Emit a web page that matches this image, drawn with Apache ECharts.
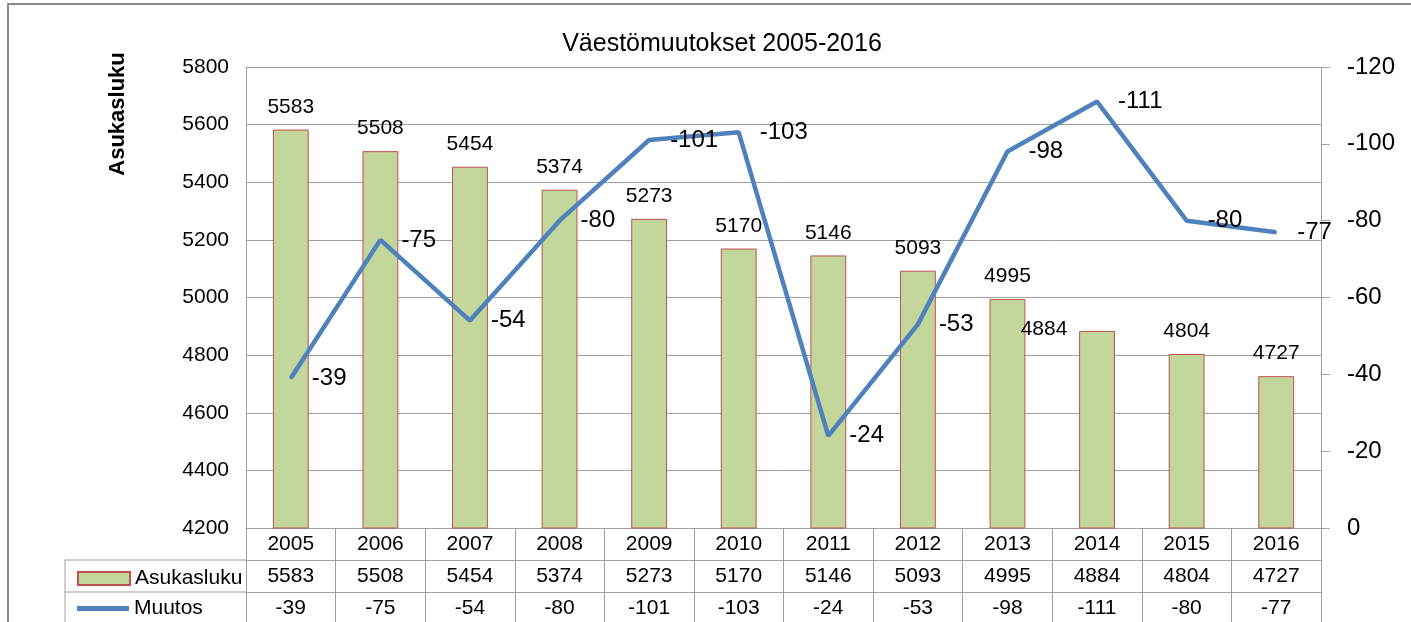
<!DOCTYPE html>
<html>
<head>
<meta charset="utf-8">
<title>Väestömuutokset 2005-2016</title>
<script src="https://cdn.jsdelivr.net/npm/echarts@6/dist/echarts.min.js"></script>
<style>
  html, body { margin: 0; padding: 0; background: #fff; }
  #main { width: 1411px; height: 622px; }
</style>
</head>
<body>
<div id="main"></div>
<script>
var years = ['2005', '2006', '2007', '2008', '2009', '2010', '2011', '2012', '2013', '2014', '2015', '2016'];
var asukasluku = [5583, 5508, 5454, 5374, 5273, 5170, 5146, 5093, 4995, 4884, 4804, 4727];
var muutos = [-39, -75, -54, -80, -101, -103, -24, -53, -98, -111, -80, -77];

var FONT = '"Liberation Sans", Arial, sans-serif';
var GRID = '#a0a0a0';

var myChart = echarts.init(document.getElementById('main'));

// 2014 label sits left of its bar in the original
var barData = asukasluku.map(function (v, i) {
  if (i === 9) return { value: v, label: { offset: [-53, 21] } };
  return v;
});

function tableAxis(offset, fmt) {
  return {
    type: 'category',
    gridIndex: 0,
    position: 'bottom',
    offset: offset,
    data: years,
    axisLine: { show: true, lineStyle: { color: GRID, width: 1 } },
    axisTick: { show: true, interval: 0, length: 32, lineStyle: { color: GRID } },
    axisLabel: {
      interval: 0, margin: 6, color: '#000', fontSize: 21, fontFamily: FONT,
      formatter: fmt
    },
    splitLine: { show: false }
  };
}

function legendRow(name, icon, top) {
  return {
    left: 72,
    top: top,
    itemWidth: 52,
    itemHeight: 13,
    selectedMode: false,
    textStyle: { fontSize: 21, color: '#000', fontFamily: FONT },
    data: [{ name: name, icon: icon }]
  };
}

var option = {
  animation: false,
  backgroundColor: '#fff',
  title: {
    text: 'Väestömuutokset 2005-2016',
    left: 717,
    top: 27,
    textAlign: 'center',
    textStyle: { fontSize: 25, fontWeight: 'normal', color: '#000', fontFamily: FONT }
  },
  legend: [
    legendRow('Asukasluku', 'rect', 563),
    legendRow('Muutos', 'path://M0,0H50V5H0Z', 593)
  ],
  grid: { left: 246, right: 90, top: 67, bottom: 94 },
  xAxis: [
    tableAxis(0, function (v) { return v; }),
    tableAxis(32, function (v, i) { return String(asukasluku[i]); }),
    tableAxis(64, function (v, i) { return String(muutos[i]); })
  ],
  yAxis: [
    {
      type: 'value',
      min: 4200, max: 5800, interval: 200,
      axisLine: { show: true, lineStyle: { color: GRID } },
      axisTick: { show: false },
      axisLabel: { color: '#000', fontSize: 21, fontFamily: FONT, margin: 17,
                   formatter: function (v) { return String(v); } },
      splitLine: { show: true, lineStyle: { color: GRID, width: 1 } }
    },
    {
      type: 'value',
      min: -120, max: 0, interval: 20,
      inverse: true,
      position: 'right',
      axisLine: { show: true, lineStyle: { color: GRID } },
      axisTick: { show: true, length: 9, lineStyle: { color: GRID } },
      axisLabel: { color: '#000', fontSize: 24, fontFamily: FONT, margin: 26,
                   formatter: function (v) { return String(v); } },
      splitLine: { show: false }
    }
  ],
  series: [
    {
      name: 'Asukasluku',
      type: 'bar',
      xAxisIndex: 0,
      yAxisIndex: 0,
      barWidth: '40%',
      itemStyle: { color: '#c3d69b', borderColor: '#c0504d', borderWidth: 1 },
      label: {
        show: true, position: 'top', distance: 12,
        color: '#000', fontSize: 21, fontFamily: FONT
      },
      data: barData
    },
    {
      name: 'Muutos',
      type: 'line',
      xAxisIndex: 0,
      yAxisIndex: 1,
      symbol: 'circle',
      symbolSize: 2,
      itemStyle: { color: '#4f81bd' },
      lineStyle: { color: '#4f81bd', width: 4.5 },
      label: {
        show: true, position: 'right', distance: 20,
        color: '#000', fontSize: 24, fontFamily: FONT
      },
      data: muutos
    }
  ],
  graphic: [
    // outer chart frame
    { type: 'rect', shape: { x: 8, y: 4, width: 1500, height: 700 },
      style: { fill: null, stroke: '#8a8a8a', lineWidth: 2 }, silent: true },
    // legend cells of the data table
    { type: 'line', shape: { x1: 65, y1: 560, x2: 246, y2: 560 }, style: { stroke: GRID, lineWidth: 1 } },
    { type: 'line', shape: { x1: 65, y1: 592, x2: 246, y2: 592 }, style: { stroke: GRID, lineWidth: 1 } },
    { type: 'line', shape: { x1: 65, y1: 560, x2: 65, y2: 622 }, style: { stroke: GRID, lineWidth: 1 } },
    // left axis name
    { type: 'text', x: 118, y: 114, rotation: Math.PI / 2,
      style: { text: 'Asukasluku', font: 'bold 22px ' + FONT, fill: '#000',
               align: 'center', verticalAlign: 'middle' } }
  ]
};
myChart.setOption(option);
</script>
</body>
</html>
